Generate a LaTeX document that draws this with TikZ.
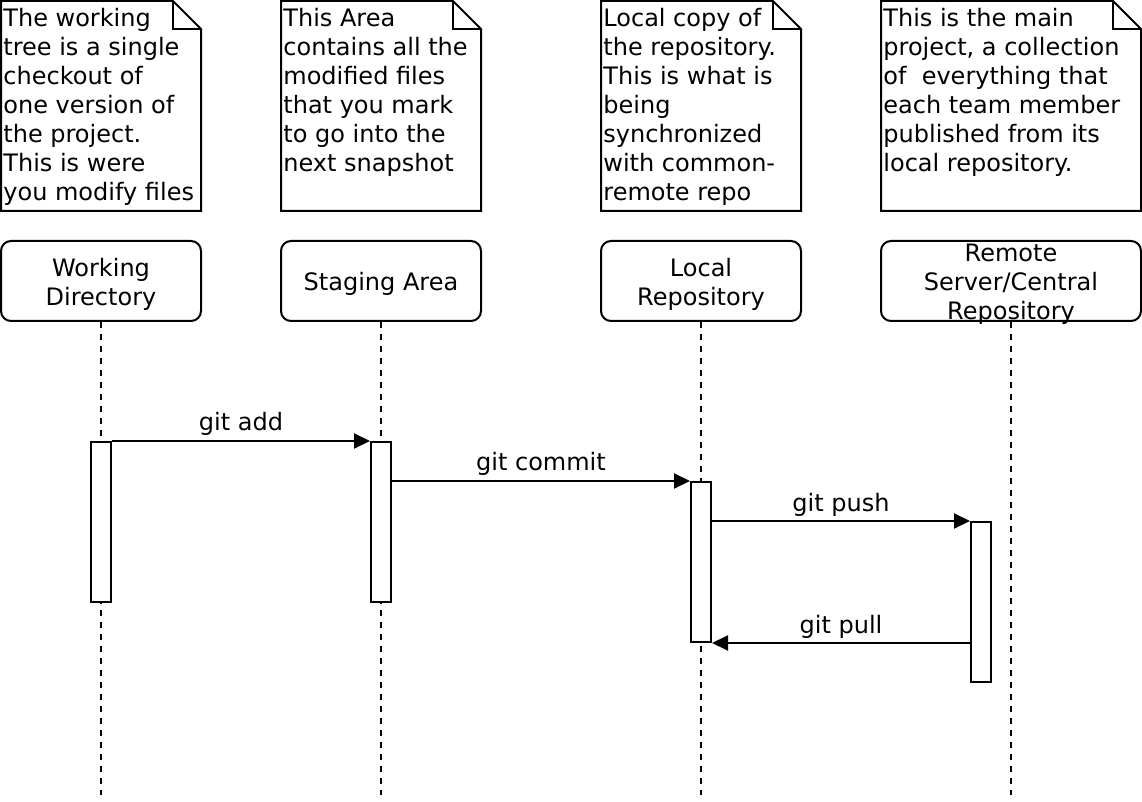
\documentclass[tikz,border=0pt]{standalone}
\usepackage{fontspec}
\setmainfont{DejaVu Sans}
\usetikzlibrary{arrows.meta,calc}

\newcommand{\hstrut}{\rule{0pt}{12pt}}

\tikzset{
    every node/.style={font=\fontsize{12}{14.5}\selectfont},
    header/.style={draw,line width=1pt,rounded corners=5pt,align=center,
        minimum height=40pt,inner sep=0pt},
    notetext/.style={anchor=base west,inner sep=0pt},
    lifeline/.style={line width=1pt,dash pattern=on 3pt off 3pt},
    activation/.style={draw,line width=1pt,fill=white,anchor=north,
        minimum width=10pt,minimum height=80pt,inner sep=0pt},
    msg/.style={line width=1pt,-{Triangle[length=8pt,width=7.5pt]}},
    msglabel/.style={anchor=base,yshift=5pt,inner sep=0pt}
}

% a note with a folded corner: name, left, top, width, height
\newcommand{\gitnote}[5]{
    \coordinate (#1) at (#2,#3);
    \draw[line width=1pt,fill=white] (#1) -- ++(#4-28,0) -- ++(28,28)
        -- ++(0,#5-28) -- ++(-#4,0) -- cycle;
    \draw[line width=1pt] ($(#1)+(#4-28,0)$) -- ++(0,28) -- ++(28,0);
}

\begin{document}
\begin{tikzpicture}[x=0.5pt,y=-0.5pt]
    \useasboundingbox (0,0) rectangle (1142,802);

    % notes
    \gitnote{n1}{1}{1}{200}{210}
    \gitnote{n2}{281}{1}{200}{210}
    \gitnote{n3}{601}{1}{200}{210}
    \gitnote{n4}{881}{1}{260}{210}
    \node[notetext] (t1) at (3,27) {\parbox[t]{110pt}{\raggedright The working\\tree is a single\\checkout of\\one version of\\the project.\\This is were\\you modify files}};
    \node[notetext] (t2) at (283,27) {\parbox[t]{110pt}{\raggedright This Area\\contains all the\\modified files\\that you mark\\to go into the\\next snapshot}};
    \node[notetext] (t3) at (603,27) {\parbox[t]{110pt}{\raggedright Local copy of\\the repository.\\This is what is\\being\\synchronized\\with common-\\remote repo}};
    \node[notetext] (t4) at (883,27) {\parbox[t]{130pt}{\raggedright This is the main\\project, a collection\\of\ \ everything that\\each team member\\published from its\\local repository.}};

    % participants
    \node[header,minimum width=100pt] (wd) at (101,281) {\hstrut Working\\Directory};
    \node[header,minimum width=100pt] (sa) at (381,281) {\hstrut Staging Area};
    \node[header,minimum width=100pt] (lr) at (701,281) {\hstrut Local\\Repository};
    \node[header,minimum width=130pt,inner ysep=-3pt] (rm) at (1011,281) {\hstrut Remote\\Server/Central\\Repository};
    \coordinate (bottom) at (0,795);

    % lifelines
    \draw[lifeline] (wd.south) -- (wd.south |- bottom);
    \draw[lifeline] (sa.south) -- (sa.south |- bottom);
    \draw[lifeline] (lr.south) -- (lr.south |- bottom);
    \draw[lifeline] (rm.south) -- (rm.south |- bottom);

    % activations
    \node[activation] (wdAct) at (101,441) {};
    \node[activation] (saAct) at (381,441) {};
    \node[activation] (lrAct) at (701,481) {};
    \node[activation] (rmAct) at (981,521) {};

    % messages
    \draw[msg] (wdAct.north east) -- (saAct.north west) node[msglabel,midway] {git add};
    \draw[msg] (saAct.east |- lrAct.north) -- (lrAct.north west) node[msglabel,midway] {git commit};
    \draw[msg] (lrAct.east |- rmAct.north) -- (rmAct.north west) node[msglabel,midway] {git push};
    \draw[msg] (rmAct.west |- lrAct.south) -- (lrAct.south east) node[msglabel,midway] {git pull};
\end{tikzpicture}
\end{document}
